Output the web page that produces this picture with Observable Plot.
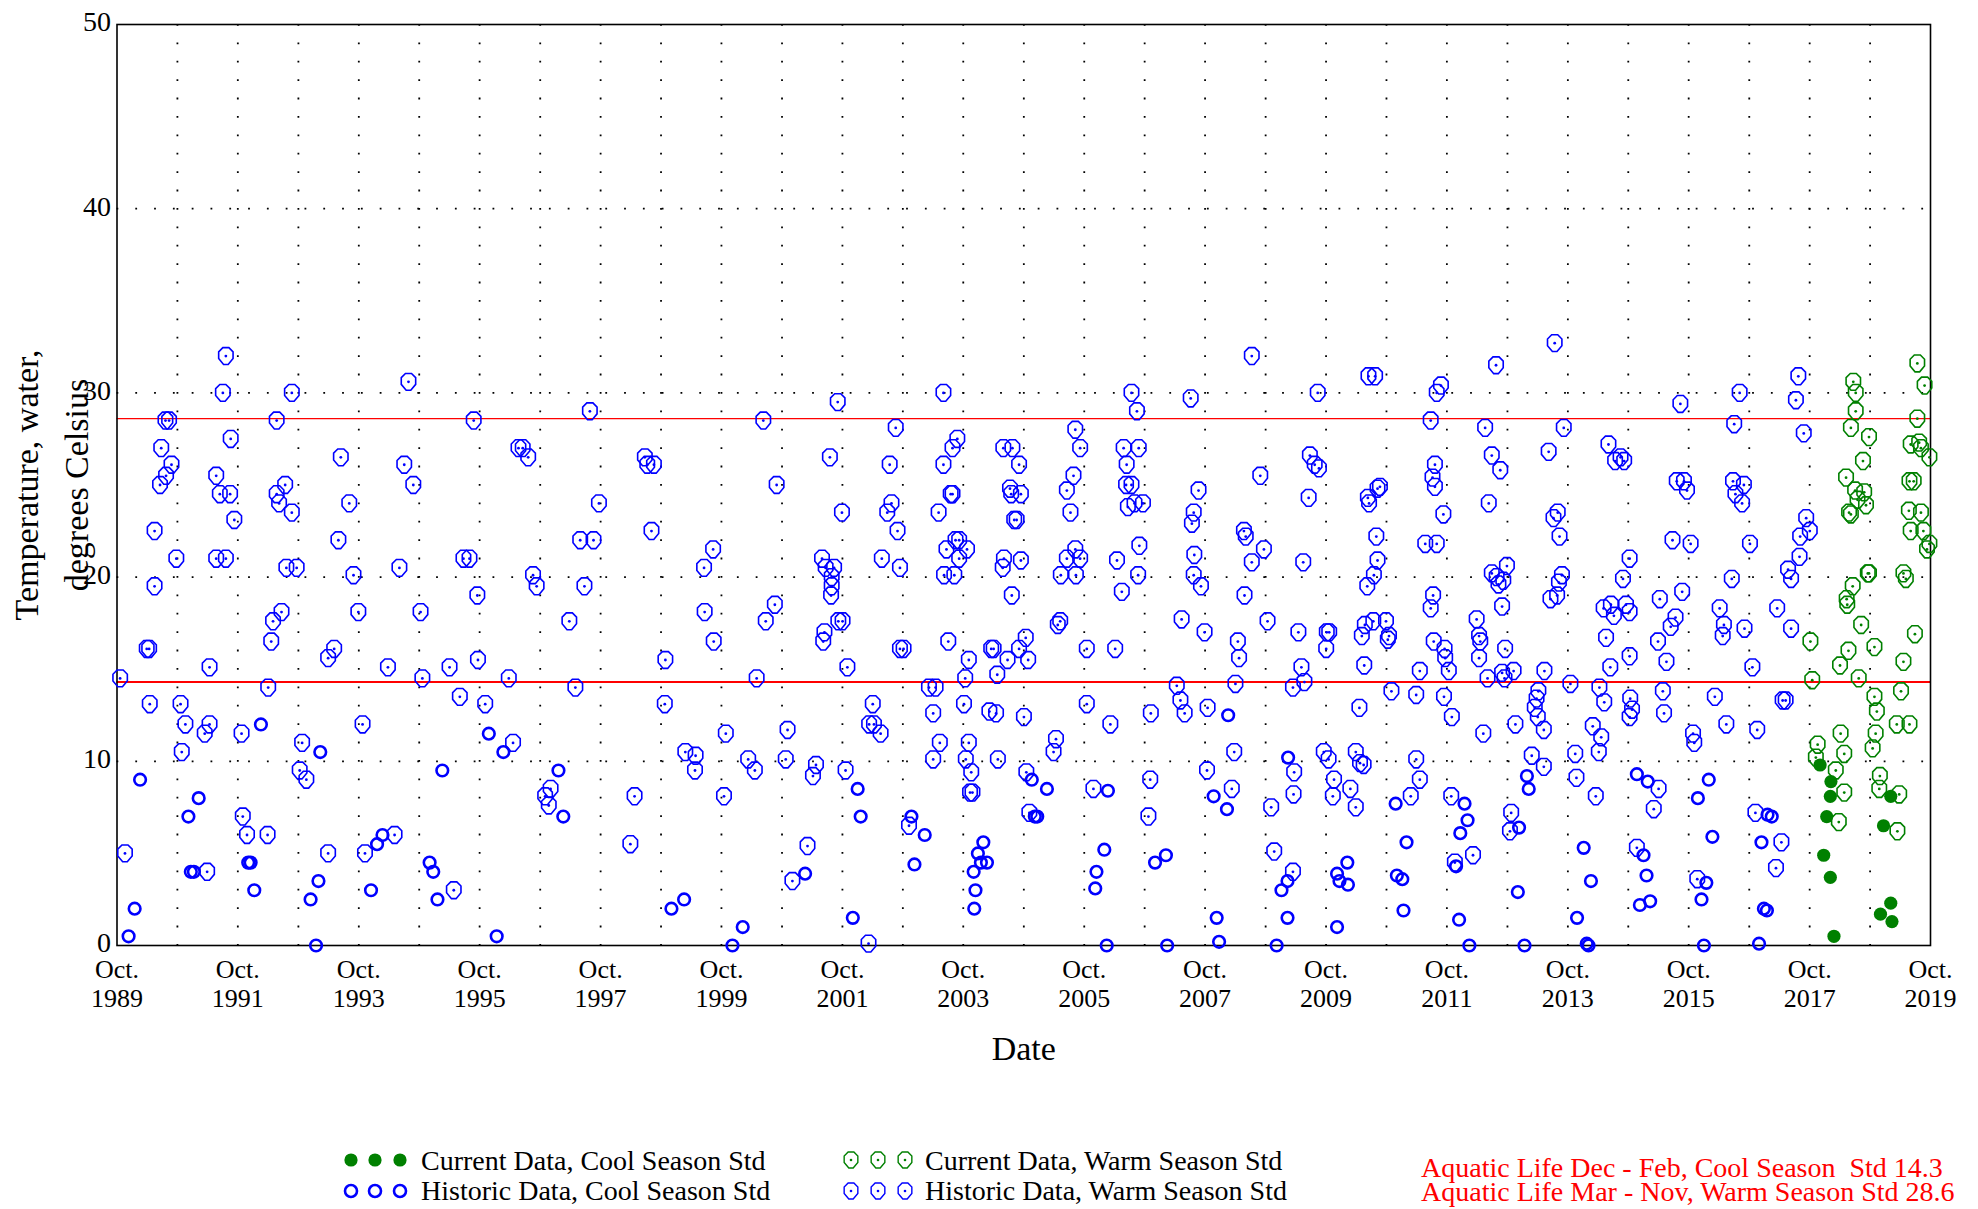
<!DOCTYPE html>
<html><head><meta charset="utf-8">
<script src="https://cdn.jsdelivr.net/npm/d3@7"></script>
<script src="https://cdn.jsdelivr.net/npm/@observablehq/plot@0.6"></script>
<style>
html,body{margin:0;padding:0;background:#fff;}
#wrap{width:1978px;height:1209px;overflow:hidden;}
svg{display:block;}
</style></head><body><div id="wrap"></div>
<script>
// ---- Data: [decimal year, temperature °C] ----
const historicCool = [
[1992.13,12.0],[1993.11,10.5],[1995.13,9.5],[1990.13,9.0],[1991.10,8.0],[1990.93,7.0],[1994.14,6.0],[1994.05,5.5],
[1990.97,4.0],[1991.02,4.0],[1991.92,4.5],[1991.96,4.5],[1994.92,4.5],[1994.98,4.0],[1993.08,3.5],[1992.02,3.0],
[1993.95,3.0],[1990.04,2.0],[1992.95,2.5],[1995.05,2.5],[1989.94,0.5],[1993.04,0.0],
[1995.90,11.5],[1996.14,10.5],[1997.05,9.5],[1997.13,7.0],[2001.13,3.9],[1998.92,2.0],[1999.13,2.5],[2000.10,1.0],[1999.93,0.0],[1996.03,0.5],
[2004.88,9.0],[2005.13,8.5],[2002.00,8.5],[2006.14,8.4],[2002.05,7.0],[2002.89,7.0],[2003.11,6.0],[2004.93,7.0],[2004.97,7.0],
[2002.94,4.4],[2004.08,5.6],[2003.99,5.0],[2003.92,4.0],[2004.04,4.5],[2004.14,4.5],[2003.95,3.0],[2003.93,2.0],[2006.08,5.2],
[2005.95,4.0],[2005.93,3.1],[2006.92,4.5],[2007.10,4.9],[2001.92,1.5],[2006.12,0.0],[2007.12,0.0],
[2008.13,12.5],[2007.89,8.1],[2008.11,7.4],[2009.12,10.2],[2010.90,7.7],[2011.08,5.6],[2012.04,7.7],[2012.09,6.8],[2011.97,6.1],
[2012.94,6.4],[2013.07,9.2],[2013.10,8.5],[2009.11,3.5],[2009.01,3.0],[2009.93,3.9],[2009.97,3.5],[2010.10,4.5],[2010.11,3.3],
[2010.92,3.8],[2011.01,3.6],[2011.03,1.9],[2011.90,4.3],[2012.92,2.9],[2007.94,1.5],[2007.98,0.2],[2009.11,1.5],[2009.93,1.0],
[2008.93,0.0],[2011.95,1.4],[2012.12,0.0],[2013.03,0.0],[2013.90,1.5],
[2014.89,9.3],[2015.07,8.9],[2016.08,9.0],[2015.90,8.0],[2017.05,7.1],[2017.12,7.0],[2014.01,5.3],[2015.00,4.9],[2016.14,5.9],
[2016.95,5.6],[2014.13,3.5],[2015.05,3.8],[2016.04,3.4],[2014.94,2.2],[2015.11,2.4],[2015.96,2.5],[2016.99,2.0],[2017.04,1.9],
[2014.06,0.1],[2014.09,0.0],[2016.00,0.0],[2016.91,0.1]
];
const historicWarm = [
[1991.55,32.0],[1994.57,30.6],[1991.50,30.0],[1992.64,30.0],[1990.55,28.5],[1990.61,28.5],[1992.39,28.5],[1995.65,28.5],
[1990.48,27.0],[1991.63,27.5],[1993.45,26.5],[1994.50,26.1],[1990.65,26.1],[1990.56,25.5],[1990.46,25.0],[1991.39,25.5],
[1994.65,25.0],[1991.45,24.5],[1991.62,24.5],[1992.39,24.5],[1992.53,25.0],[1992.43,24.0],[1993.59,24.0],[1992.64,23.5],
[1991.69,23.1],[1990.37,22.5],[1993.41,22.0],[1990.73,21.0],[1991.39,21.0],[1991.55,21.0],[1992.55,20.5],[1992.72,20.5],
[1994.42,20.5],[1993.66,20.1],[1995.48,21.0],[1995.58,21.0],[1990.37,19.5],[1995.71,19.0],[1992.47,18.1],[1992.33,17.6],
[1993.74,18.1],[1994.77,18.1],[1992.30,16.5],[1990.24,16.1],[1990.28,16.1],[1993.34,16.1],[1993.24,15.6],[1995.72,15.5],
[1991.28,15.1],[1994.23,15.1],[1995.25,15.1],[1989.80,14.5],[1994.80,14.5],[1992.25,14.0],[1995.42,13.5],[1990.29,13.1],
[1990.80,13.1],[1990.88,12.0],[1991.28,12.0],[1991.20,11.5],[1991.81,11.5],[1993.81,12.0],[1992.81,11.0],[1990.82,10.5],
[1992.77,9.5],[1992.88,9.0],[1991.83,7.0],[1991.90,6.0],[1992.24,6.0],[1994.34,6.0],[1989.88,5.0],[1993.24,5.0],[1993.85,5.0],
[1991.24,4.0],[1995.32,3.0],
[1995.84,13.1],[1997.57,29.0],[1996.39,27.0],[1996.46,27.0],[1996.55,26.5],[1998.48,26.5],[1998.52,26.1],[1998.63,26.1],
[2000.44,28.5],[2001.67,29.5],[2001.54,26.5],[2000.66,25.0],[1997.72,24.0],[2001.74,23.5],[1997.41,22.0],[1997.63,22.0],
[1998.59,22.5],[1999.61,21.5],[1999.46,20.5],[1996.63,20.1],[1996.69,19.5],[1997.48,19.5],[2001.41,21.0],[2001.47,20.5],
[2001.61,20.5],[2001.57,20.0],[2001.57,19.5],[2001.56,19.0],[1997.23,17.6],[1999.47,18.1],[2000.63,18.5],[2000.48,17.6],
[1999.62,16.5],[2001.45,17.0],[2001.43,16.5],[2001.68,17.6],[2001.75,17.6],[1998.82,15.5],[2001.83,15.1],[1996.23,14.5],
[2000.33,14.5],[1997.33,14.0],[1998.81,13.1],[1996.30,11.0],[1999.82,11.5],[2000.84,11.7],[1999.15,10.5],[1999.32,10.3],
[1999.31,9.5],[2000.19,10.1],[2000.30,9.5],[2000.81,10.1],[2001.31,9.8],[2001.26,9.2],[2001.80,9.5],[1996.83,8.1],
[1996.92,8.5],[1996.89,7.6],[1998.31,8.1],[1999.79,8.1],[1998.24,5.5],[2001.17,5.4],[2000.92,3.5],
[2003.42,30.0],[2006.53,30.0],[2006.62,29.0],[2007.51,29.7],[2002.63,28.1],[2005.60,28.0],[2003.65,27.5],[2003.57,27.0],
[2004.41,27.0],[2004.56,27.0],[2005.68,27.0],[2006.40,27.0],[2006.65,27.0],[2002.53,26.1],[2003.42,26.1],[2004.67,26.1],
[2006.45,26.1],[2005.57,25.5],[2005.46,24.7],[2006.44,25.0],[2006.53,25.0],[2003.54,24.5],[2003.57,24.5],[2004.52,24.8],
[2004.54,24.5],[2004.70,24.5],[2007.64,24.7],[2002.56,24.0],[2002.49,23.5],[2003.34,23.5],[2005.52,23.5],[2006.47,23.8],
[2006.58,24.0],[2006.72,24.0],[2007.56,23.5],[2007.53,22.9],[2002.66,22.5],[2004.59,23.1],[2004.63,23.1],[2003.68,22.0],
[2003.62,22.0],[2003.47,21.5],[2003.81,21.5],[2003.68,21.0],[2002.40,21.0],[2002.70,20.5],[2003.43,20.1],[2003.60,20.1],
[2004.42,21.0],[2004.40,20.5],[2004.70,20.9],[2005.60,21.5],[2005.46,21.0],[2005.68,21.0],[2005.36,20.1],[2005.61,20.1],
[2006.29,20.9],[2006.66,21.7],[2006.64,20.1],[2006.37,19.2],[2007.57,21.2],[2007.56,20.1],[2007.68,19.5],[2004.55,19.0],
[2005.35,17.6],[2005.31,17.4],[2007.36,17.7],[2007.74,17.0],[2002.70,16.1],[2002.76,16.1],[2003.50,16.5],[2003.84,15.5],
[2004.21,16.1],[2004.25,16.1],[2004.48,15.5],[2004.67,16.1],[2004.78,16.7],[2004.82,15.5],[2005.79,16.1],[2006.26,16.1],
[2003.78,14.5],[2004.31,14.7],[2003.18,14.0],[2003.29,14.0],[2007.28,14.1],[2007.34,13.3],[2007.41,12.6],[2007.79,12.9],
[2002.25,13.1],[2002.19,12.0],[2002.27,12.0],[2002.38,11.5],[2003.25,12.6],[2003.76,13.1],[2004.18,12.7],[2004.29,12.6],
[2004.75,12.4],[2005.79,13.1],[2006.18,12.0],[2006.85,12.6],[2003.36,11.0],[2003.84,11.0],[2005.28,11.2],[2005.24,10.5],
[2003.25,10.1],[2003.79,10.1],[2003.88,9.4],[2004.32,10.1],[2004.79,9.4],[2003.86,8.3],[2003.90,8.3],[2005.90,8.5],
[2006.84,9.0],[2007.78,9.5],[2002.85,6.5],[2004.84,7.2],[2006.81,7.0],[2002.18,0.1],
[2008.52,32.0],[2009.61,30.0],[2010.45,30.9],[2010.56,30.9],[2011.65,30.4],[2011.58,30.0],[2012.56,31.5],[2013.53,32.7],
[2011.48,28.5],[2012.38,28.1],[2013.68,28.1],[2009.48,26.6],[2009.56,26.1],[2009.63,25.9],[2008.66,25.5],[2011.55,26.1],
[2011.51,25.4],[2011.55,24.9],[2012.49,26.6],[2012.63,25.8],[2013.43,26.8],[2009.46,24.3],[2010.44,24.3],[2010.46,24.0],
[2010.60,24.8],[2010.64,24.9],[2011.69,23.4],[2012.44,24.0],[2013.58,23.5],[2013.51,23.2],[2008.39,22.5],[2008.42,22.2],
[2010.58,22.2],[2013.61,22.2],[2008.72,21.5],[2008.52,20.8],[2009.37,20.8],[2011.39,21.8],[2011.58,21.8],[2010.60,20.9],
[2010.54,20.1],[2010.43,19.5],[2012.74,20.6],[2012.49,20.2],[2012.57,20.0],[2012.68,19.8],[2012.60,19.6],[2013.65,20.1],
[2013.60,19.7],[2013.46,18.8],[2013.57,19.0],[2008.40,19.0],[2011.52,19.0],[2011.48,18.3],[2012.66,18.4],[2008.78,17.6],
[2009.29,17.0],[2009.76,17.0],[2009.80,17.0],[2009.75,16.1],[2008.29,16.5],[2008.31,15.6],[2010.34,16.8],[2010.39,17.4],
[2010.53,17.6],[2010.74,17.6],[2010.79,16.8],[2010.77,16.6],[2010.38,15.2],[2011.53,16.5],[2011.71,16.1],[2011.72,15.6],
[2011.78,14.9],[2012.24,17.7],[2012.28,16.8],[2012.30,16.5],[2012.28,15.6],[2012.71,16.1],[2009.34,15.1],[2009.39,14.3],
[2009.20,14.0],[2008.25,14.2],[2011.30,14.9],[2012.42,14.5],[2012.66,14.8],[2012.70,14.5],[2012.85,14.9],[2013.36,14.9],
[2013.79,14.2],[2010.83,13.8],[2011.24,13.6],[2011.70,13.5],[2011.83,12.4],[2013.26,13.8],[2013.23,13.4],[2013.20,12.9],
[2013.25,12.4],[2013.35,11.7],[2012.88,12.0],[2012.35,11.5],[2010.30,12.9],[2008.23,10.5],[2008.19,8.5],[2009.22,9.4],
[2009.21,8.2],[2008.84,7.5],[2009.71,10.5],[2009.79,10.1],[2009.88,9.0],[2009.86,8.1],[2010.24,10.5],[2010.31,9.9],
[2010.37,9.8],[2010.15,8.5],[2010.24,7.5],[2011.24,10.1],[2011.30,9.0],[2011.15,8.1],[2011.82,8.1],[2012.81,7.2],
[2012.79,6.2],[2013.15,10.3],[2013.35,9.7],[2008.89,5.1],[2009.20,4.0],[2011.88,4.5],[2012.18,4.9],
[2013.87,10.4],[2013.89,9.1],[2015.61,29.4],[2016.59,30.0],[2016.50,28.3],[2017.56,30.9],[2017.52,29.6],[2017.65,27.8],
[2014.42,27.2],[2014.62,26.5],[2014.53,26.3],[2014.68,26.3],[2015.55,25.2],[2015.67,25.2],[2015.72,24.7],[2016.48,25.2],
[2016.66,25.0],[2016.52,24.5],[2016.63,24.0],[2017.69,23.2],[2017.75,22.5],[2017.59,22.2],[2017.58,21.1],[2015.48,22.0],
[2015.78,21.8],[2016.76,21.8],[2014.77,21.0],[2014.66,19.9],[2016.46,19.9],[2017.39,20.4],[2017.44,19.9],[2015.64,19.2],
[2015.27,18.8],[2014.34,18.3],[2014.46,18.5],[2014.51,17.9],[2014.71,18.5],[2014.77,18.1],[2015.53,17.8],[2015.45,17.3],
[2016.26,18.3],[2016.33,17.4],[2016.31,16.8],[2016.67,17.2],[2017.21,18.3],[2017.44,17.2],[2014.38,16.7],[2015.24,16.5],
[2014.77,15.7],[2015.38,15.4],[2014.45,15.1],[2016.80,15.1],[2014.27,14.0],[2014.35,13.2],[2014.78,13.4],[2014.81,12.8],
[2014.77,12.4],[2015.32,13.8],[2015.34,12.6],[2016.18,13.5],[2017.30,13.3],[2017.35,13.3],[2014.16,11.9],[2014.30,11.3],
[2014.26,10.5],[2015.82,11.5],[2015.84,11.0],[2016.37,12.0],[2016.88,11.7],[2014.21,8.1],[2015.25,8.5],[2015.17,7.4],
[2016.85,7.2],[2014.89,5.3],[2017.28,5.6],[2017.19,4.2],[2015.89,3.6]
];
const currentWarm = [
[2019.53,31.6],[2019.65,30.4],[2018.47,30.6],[2018.51,30.0],[2018.51,29.0],[2019.53,28.6],[2018.43,28.1],[2018.73,27.6],
[2019.42,27.2],[2019.56,27.3],[2019.59,27.0],[2019.73,26.5],[2018.63,26.3],[2018.35,25.4],[2018.50,24.7],[2018.65,24.6],
[2018.54,24.2],[2018.68,23.9],[2018.40,23.5],[2018.43,23.4],[2019.40,25.2],[2019.47,25.2],[2019.39,23.6],[2019.59,23.5],
[2019.42,22.5],[2019.63,22.5],[2019.73,21.8],[2019.69,21.5],[2018.73,20.2],[2018.71,20.2],[2019.30,20.2],[2019.34,19.9],
[2018.46,19.5],[2018.36,18.8],[2018.37,18.5],[2019.49,16.9],[2018.60,17.4],[2017.76,16.5],[2018.82,16.2],[2018.39,16.0],
[2018.25,15.2],[2019.30,15.4],[2017.79,14.4],[2018.56,14.5],[2018.82,13.5],[2018.86,12.7],[2019.26,13.8],[2019.19,12.0],
[2019.40,12.0],[2018.26,11.5],[2018.84,11.5],[2017.88,10.9],[2017.85,10.2],[2018.32,10.4],[2018.79,10.7],[2018.18,9.5],
[2018.91,9.2],[2018.32,8.3],[2018.90,8.5],[2019.23,8.2],[2018.23,6.7],[2019.20,6.2]
];
const currentCool = [
[2017.92,9.8],[2018.10,8.9],[2018.09,8.1],[2018.03,7.0],[2017.98,4.9],[2018.09,3.7],[2018.15,0.5],
[2019.09,8.1],[2018.97,6.5],[2019.09,2.3],[2018.92,1.7],[2019.11,1.3]
];
const coolStd = 14.3, warmStd = 28.6;
const yTicks = [0, 10, 20, 30, 40, 50];
const yearStart = 1989, yearEnd = 2019;        // Oct. of each year
const legendLabels = ["Current Data, Cool Season Std", "Historic Data, Cool Season Std",
                      "Current Data, Warm Season Std", "Historic Data, Warm Season Std"];
const stdLabels = ["Aquatic Life Dec - Feb, Cool Season  Std 14.3", "Aquatic Life Mar - Nov, Warm Season Std 28.6"];

// ---- helpers ----
const blue = "#0000ff", green = "#008000";
function yearToDate(v) {
  const yr = Math.floor(v), s = Date.UTC(yr, 0, 1), e = Date.UTC(yr + 1, 0, 1);
  return new Date(s + (v - yr) * (e - s));
}
const rows = a => a.map(([t, temp]) => ({date: yearToDate(t), temp}));
const oct = y => new Date(Date.UTC(y, 9, 1));
const gridYears = d3.range(yearStart + 1, yearEnd).map(oct);
const labelYears = d3.range(yearStart, yearEnd + 1, 2).map(oct);

// shield-like marker: flat top with cut corners, straight sides, narrowing bottom
const shield = {
  draw(ctx, size) {
    const r = Math.sqrt(size / Math.PI), w = r * 0.9, h = r * 1.05;
    ctx.moveTo(-0.42 * w, -h);
    ctx.lineTo(0.42 * w, -h);
    ctx.lineTo(w, -0.5 * h);
    ctx.lineTo(w, 0.3 * h);
    ctx.lineTo(0.32 * w, h);
    ctx.lineTo(-0.32 * w, h);
    ctx.lineTo(-w, 0.3 * h);
    ctx.lineTo(-w, -0.5 * h);
    ctx.closePath();
  }
};

const hc = rows(historicCool), hw = rows(historicWarm), cw = rows(currentWarm), cc = rows(currentCool);
const font = '"Liberation Serif", "Times New Roman", Times, serif';

const chart = Plot.plot({
  width: 1978, height: 1090,
  marginLeft: 116.5, marginRight: 48, marginTop: 24, marginBottom: 145,
  style: {fontFamily: font, background: "white", color: "black", overflow: "visible"},
  x: {type: "utc", domain: [oct(yearStart), oct(yearEnd)], label: null},
  y: {domain: [0, 50], label: null},
  marks: [
    Plot.gridX(gridYears, {stroke: "black", strokeOpacity: 1, strokeWidth: 1.8, strokeDasharray: "1.8,16.6"}),
    Plot.gridY(yTicks.slice(1, -1), {stroke: "black", strokeOpacity: 1, strokeWidth: 1.8, strokeDasharray: "1.8,17"}),
    Plot.ruleY([warmStd], {stroke: "red", strokeWidth: 1.2}),
    Plot.ruleY([coolStd], {stroke: "red", strokeWidth: 2}),
    Plot.frame({stroke: "black", strokeWidth: 1.6}),
    Plot.axisY({ticks: yTicks, tickSize: 0, tickPadding: 6, fontSize: 28, dy: -2, label: null}),
    Plot.axisX({ticks: labelYears, tickFormat: d => "Oct.\n" + d.getUTCFullYear(), tickSize: 0, tickPadding: 12, fontSize: 26, lineHeight: 1.12, label: null}),
    Plot.text(["Temperature, water,\ndegrees Celsius"], {frameAnchor: "left", textAnchor: "middle", lineAnchor: "middle", rotate: -90, dx: -70, fontSize: 34, lineHeight: 1.47}),
    Plot.text(["Date"], {frameAnchor: "bottom", dy: 114, fontSize: 34}),
    Plot.dot(hc, {x: "date", y: "temp", r: 5.8, stroke: blue, strokeWidth: 2.6, fill: "none"}),
    Plot.dot(hw, {x: "date", y: "temp", r: 8, symbol: shield, stroke: blue, strokeWidth: 1.6, fill: "none"}),
    Plot.dot(hw, {x: "date", y: "temp", r: 1.4, fill: blue}),
    Plot.dot(cw, {x: "date", y: "temp", r: 8, symbol: shield, stroke: green, strokeWidth: 1.6, fill: "none"}),
    Plot.dot(cw, {x: "date", y: "temp", r: 1.4, fill: green}),
    Plot.dot(cc, {x: "date", y: "temp", r: 6.6, fill: green})
  ]
});
document.getElementById("wrap").appendChild(chart);

// ---- legend below the chart ----
const leg = d3.create("svg").attr("width", 1978).attr("height", 119)
  .style("font-family", font).style("font-size", "28px");
const circ = r => d3.symbol(d3.symbolCircle, Math.PI * r * r)();
const shp = r => d3.symbol(shield, Math.PI * r * r)();
const items = [
  {xs: [351, 375, 400], y: 70, tx: 421, ty: 80, label: legendLabels[0], kind: "filled", color: green},
  {xs: [351, 375, 400], y: 101, tx: 421, ty: 110, label: legendLabels[1], kind: "ring", color: blue},
  {xs: [851, 878, 905], y: 70, tx: 925, ty: 80, label: legendLabels[2], kind: "shield", color: green},
  {xs: [851, 878, 905], y: 101, tx: 925, ty: 110, label: legendLabels[3], kind: "shield", color: blue}
];
for (const it of items) {
  for (const x of it.xs) {
    const g = leg.append("g").attr("transform", `translate(${x},${it.y})`);
    if (it.kind === "filled") g.append("path").attr("d", circ(6.6)).attr("fill", it.color);
    else if (it.kind === "ring") g.append("path").attr("d", circ(6)).attr("fill", "none").attr("stroke", it.color).attr("stroke-width", 2.6);
    else {
      g.append("path").attr("d", shp(7.6)).attr("fill", "none").attr("stroke", it.color).attr("stroke-width", 1.4);
      g.append("path").attr("d", circ(1.3)).attr("fill", it.color);
    }
  }
  leg.append("text").attr("x", it.tx).attr("y", it.ty).attr("fill", "black").text(it.label);
}
leg.append("text").attr("x", 1421).attr("y", 87).attr("fill", "red").style("white-space", "pre").text(stdLabels[0]);
leg.append("text").attr("x", 1421).attr("y", 111).attr("fill", "red").text(stdLabels[1]);
document.getElementById("wrap").appendChild(leg.node());
</script>
</body></html>
